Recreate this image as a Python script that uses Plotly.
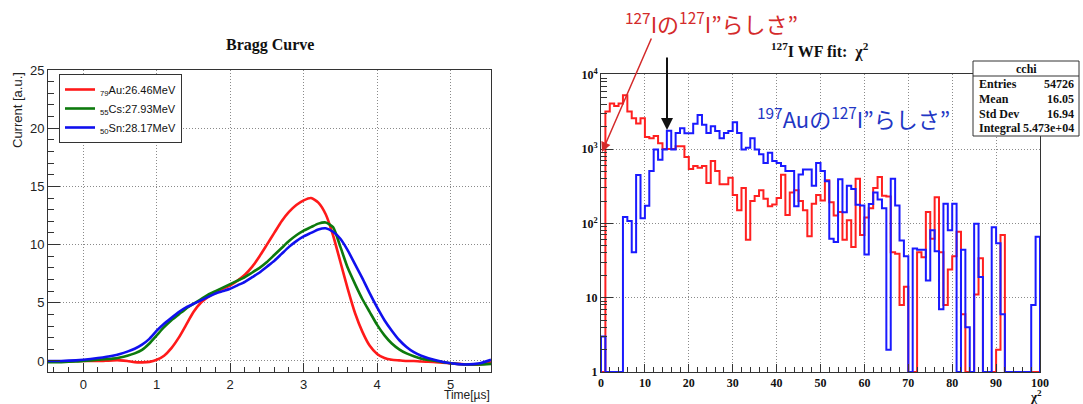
import plotly.graph_objects as go

# ---------------- Left panel: Bragg curves ----------------
time_us = [-0.5, -0.3, -0.1, 0.0, 0.2, 0.4, 0.5, 0.6, 0.7, 0.8, 0.9, 1.0, 1.1, 1.2, 1.3, 1.4,
           1.5, 1.6, 1.7, 1.8, 1.9, 2.0, 2.1, 2.2, 2.3, 2.4, 2.5, 2.6, 2.7, 2.8, 2.9, 3.0,
           3.1, 3.2, 3.3, 3.4, 3.5, 3.6, 3.7, 3.8, 3.9, 4.0, 4.1, 4.2, 4.3, 4.4, 4.5, 4.6,
           4.8, 5.0, 5.2, 5.4, 5.55]
au_current = [-0.05, -0.05, 0.0, 0.0, 0.0, 0.05, 0.05, 0.0, -0.1, -0.12, -0.08, 0.1, 0.45, 1.1, 2.0, 3.1,
              4.2, 5.0, 5.5, 5.9, 6.2, 6.5, 6.9, 7.4, 8.1, 9.0, 10.0, 11.0, 12.0, 12.8, 13.4, 13.8,
              14.0, 13.6, 12.6, 10.8, 8.5, 6.2, 4.1, 2.5, 1.3, 0.6, 0.25, 0.1, 0.05, 0.0, 0.0, -0.05,
              -0.1, -0.2, -0.3, -0.3, -0.1]
cs_current = [-0.1, -0.1, -0.05, 0.0, 0.1, 0.2, 0.3, 0.45, 0.65, 0.95, 1.5, 2.2, 2.9, 3.5, 4.0, 4.5,
              4.9, 5.3, 5.7, 6.0, 6.3, 6.6, 6.9, 7.2, 7.6, 8.0, 8.5, 9.1, 9.7, 10.3, 10.8, 11.2,
              11.5, 11.8, 11.9, 11.5, 9.8, 8.0, 6.6, 5.3, 4.2, 3.1, 2.2, 1.5, 1.0, 0.65, 0.4, 0.2,
              0.0, -0.2, -0.3, -0.3, -0.25]
sn_current = [0.0, 0.0, 0.05, 0.1, 0.25, 0.45, 0.6, 0.8, 1.05, 1.4, 1.9, 2.6, 3.2, 3.7, 4.2, 4.6,
              4.9, 5.2, 5.5, 5.8, 6.0, 6.2, 6.5, 6.8, 7.2, 7.6, 8.1, 8.6, 9.2, 9.8, 10.3, 10.7,
              11.0, 11.3, 11.4, 11.1, 10.5, 9.5, 8.3, 7.1, 5.8, 4.6, 3.5, 2.6, 1.8, 1.2, 0.75, 0.45,
              0.05, -0.2, -0.3, -0.2, 0.1]
legend_names = ["<sub>79</sub>Au:26.46MeV", "<sub>55</sub>Cs:27.93MeV", "<sub>50</sub>Sn:28.17MeV"]

# ---------------- Right panel: chi2 histograms (1-wide bins, 0..100) ----------------
chi2_bin_low = list(range(100))
iodine_counts = [
    0, 3200, 4100, 3800, 4100, 5300, 3200, 2600, 2200, 2600,
    1450, 1400, 1500, 1200, 1000, 1000, 1000, 1090, 1090, 780,
    540, 590, 560, 590, 350, 690, 505, 336, 336, 410,
    240, 150, 300, 60, 200, 234, 280, 215, 170, 180,
    220, 450, 130, 260, 280, 200, 150, 67, 183, 240,
    203, 380, 193, 128, 142, 60, 110, 48, 400, 70,
    120, 160, 300, 420, 236, 230, 41, 39, 8, 14,
    0, 0, 41, 35, 142, 62, 224, 41, 8, 24,
    36, 77, 6, 0, 0, 11, 34, 0, 0, 0,
    2, 70, 0, 0, 0, 0, 0, 0, 0, 0]
gold_counts = [
    3, 0, 0, 0, 0, 122, 108, 41, 447, 117,
    173, 505, 990, 720, 990, 1770, 990, 1650, 1900, 1630,
    1630, 2190, 2880, 2120, 1650, 2030, 1750, 1400, 1650, 1750,
    2300, 1650, 990, 1040, 1400, 990, 850, 650, 890, 690,
    650, 590, 505, 505, 170, 455, 530, 530, 320, 650,
    505, 370, 62, 56, 392, 141, 320, 290, 178, 174,
    38, 182, 260, 210, 160, 2, 400, 174, 59, 36,
    0, 46, 44, 44, 17, 81, 42, 7, 183, 81,
    183, 0, 44, 4, 0, 99, 19, 0, 0, 89,
    54, 6, 0, 0, 0, 0, 0, 0, 8, 66]
stats_title = "cchi"
stats_rows = [("Entries", "54726"), ("Mean", "16.05"), ("Std Dev", "16.94"), ("Integral", "5.473e+04")]
log_tick_vals = [1, 10, 100, 1000, 10000]
log_tick_text = ["1", "10", "10<sup>2</sup>", "10<sup>3</sup>", "10<sup>4</sup>"]

W, H = 1083, 404
SANS = "Liberation Sans, Arial, sans-serif"
SERIF = "Liberation Serif, Times New Roman, serif"
JP = "Noto Sans CJK JP, sans-serif"

fig = go.Figure()

colors_left = ["#ff1a1a", "#0d7a0d", "#1010ee"]
for name, ys, c in zip(legend_names, [au_current, cs_current, sn_current], colors_left):
    fig.add_trace(go.Scatter(x=time_us, y=ys, mode="lines", name=name,
                             line=dict(color=c, width=2.6, shape="spline", smoothing=0.6),
                             xaxis="x", yaxis="y"))


def step_xy(counts, ymin=1.0):
    vals = [v if v > 0 else ymin for v in counts]
    xs = [chi2_bin_low[0]] + chi2_bin_low + [chi2_bin_low[-1] + 1, chi2_bin_low[-1] + 1]
    ys = [ymin] + vals + [vals[-1], ymin]
    return xs, ys


for counts, c in [(iodine_counts, "#ff2020"), (gold_counts, "#1a1aff")]:
    hx, hy = step_xy(counts)
    fig.add_trace(go.Scatter(x=hx, y=hy, mode="lines", showlegend=False,
                             line=dict(color=c, width=2, shape="hv"),
                             xaxis="x2", yaxis="y2"))

axis_common = dict(showline=True, linecolor="#333", linewidth=1, mirror=True,
                   showgrid=True, gridcolor="#8a8a8a", griddash="1px,2px", gridwidth=1,
                   zeroline=False, ticks="inside", tickcolor="#333", automargin=False)

y_dom_left = [1 - 372 / H, 1 - 70 / H]
y_dom_right = [1 - 372 / H, 1 - 74 / H]

fig.update_layout(
    width=W, height=H, margin=dict(l=0, r=0, t=0, b=0, pad=0, autoexpand=False),
    paper_bgcolor="white", plot_bgcolor="white",
    xaxis=dict(domain=[48 / W, 491 / W], range=[-0.48, 5.55], dtick=1, tick0=0,
               ticklen=9, tickfont=dict(family=SANS, size=13, color="#222"),
               minor=dict(dtick=0.2, ticklen=5, ticks="inside", tickcolor="#333", showgrid=False),
               anchor="y", **axis_common),
    yaxis=dict(domain=y_dom_left, range=[-0.95, 25], dtick=5, tick0=0,
               ticklen=12, tickfont=dict(family=SANS, size=13, color="#222"),
               minor=dict(dtick=1, ticklen=6, ticks="inside", tickcolor="#333", showgrid=False),
               anchor="x", **axis_common),
    xaxis2=dict(domain=[601 / W, 1040 / W], range=[0, 100], dtick=10, tick0=0,
                ticklen=8, tickfont=dict(family=SERIF, size=12, color="#111", weight="bold"),
                minor=dict(dtick=2, ticklen=5, ticks="inside", tickcolor="#333", showgrid=False),
                anchor="y2", **axis_common),
    yaxis2=dict(domain=y_dom_right, type="log", range=[0, 4.01],
                tickvals=log_tick_vals, ticktext=log_tick_text,
                ticklen=12, tickfont=dict(family=SERIF, size=12, color="#111", weight="bold"),
                minor=dict(dtick="D1", ticklen=6, ticks="inside", tickcolor="#333", showgrid=False),
                anchor="x2", **axis_common),
    legend=dict(x=59 / W, y=1 - 74 / H, xanchor="left", yanchor="top",
                bgcolor="white", bordercolor="#333", borderwidth=1,
                font=dict(family=SANS, size=11, color="#111"),
                tracegroupgap=0, itemwidth=30),
    showlegend=True,
)


def txt(text, px, py, size, family, color, xa="center", ya="middle", angle=0):
    return dict(text=text, x=px / W, y=1 - py / H, xref="paper", yref="paper",
                xanchor=xa, yanchor=ya, showarrow=False, textangle=angle,
                font=dict(family=family, size=size, color=color))


ann = []
ann.append(txt("<b>Bragg Curve</b>", 270, 45, 16, SERIF, "#111"))
ann.append(txt("Current [a.u.]", 18, 70, 13, SANS, "#222", xa="center", ya="top", angle=-90))
ann.append(txt("Time[µs]", 492, 395, 12, SANS, "#222", xa="right"))
ann.append(txt("<b><sup>127</sup>I WF fit:  χ<sup>2</sup></b>", 820, 50, 16, SERIF, "#111"))
ann.append(txt("<b>χ<sup>2</sup></b>", 1036, 396, 13, SERIF, "#111"))
# Japanese labels
ann.append(txt("<sup>127</sup>Iの<sup>127</sup>I”らしさ”", 623, 22, 22, JP, "#d42a2a", xa="left"))
ann.append(txt("<sup>197</sup>Auの<sup>127</sup>I”らしさ”", 755, 117, 22, JP, "#2236c4", xa="left"))
# arrows
ann.append(dict(text="", x=602 / W, y=1 - 152 / H, xref="paper", yref="paper",
                ax=50, ay=-115, showarrow=True, arrowhead=2, arrowsize=1.3, arrowwidth=1.5,
                arrowcolor="#d42a2a"))
ann.append(dict(text="", x=667 / W, y=1 - 130 / H, xref="paper", yref="paper",
                ax=0, ay=-74, showarrow=True, arrowhead=2, arrowsize=1.2, arrowwidth=2,
                arrowcolor="#111"))

# stats box
bx0, bx1, by0, by1 = 973, 1079, 136, 61
shapes = [
    dict(type="rect", xref="paper", yref="paper", x0=bx0 / W, x1=bx1 / W, y0=1 - by0 / H, y1=1 - by1 / H,
         line=dict(color="#333", width=1), fillcolor="white", layer="above"),
    dict(type="line", xref="paper", yref="paper", x0=bx0 / W, x1=bx1 / W, y0=1 - 76 / H, y1=1 - 76 / H,
         line=dict(color="#333", width=1), layer="above"),
]
ann.append(txt(f"<b>{stats_title}</b>", (bx0 + bx1) / 2, 69, 12, SERIF, "#111"))
row_y = [84, 99, 114, 128]
for (lab, val), ry in zip(stats_rows, row_y):
    ann.append(txt(f"<b>{lab}</b>", bx0 + 4, ry, 12, SERIF, "#111", xa="left"))
    ann.append(txt(f"<b>{val}</b>", bx1 - 3, ry, 12, SERIF, "#111", xa="right"))

fig.update_layout(annotations=ann, shapes=shapes)
fig.write_html("out.html", config={"displayModeBar": False},
               post_script="document.body.style.margin='0';document.body.style.overflow='hidden';")
